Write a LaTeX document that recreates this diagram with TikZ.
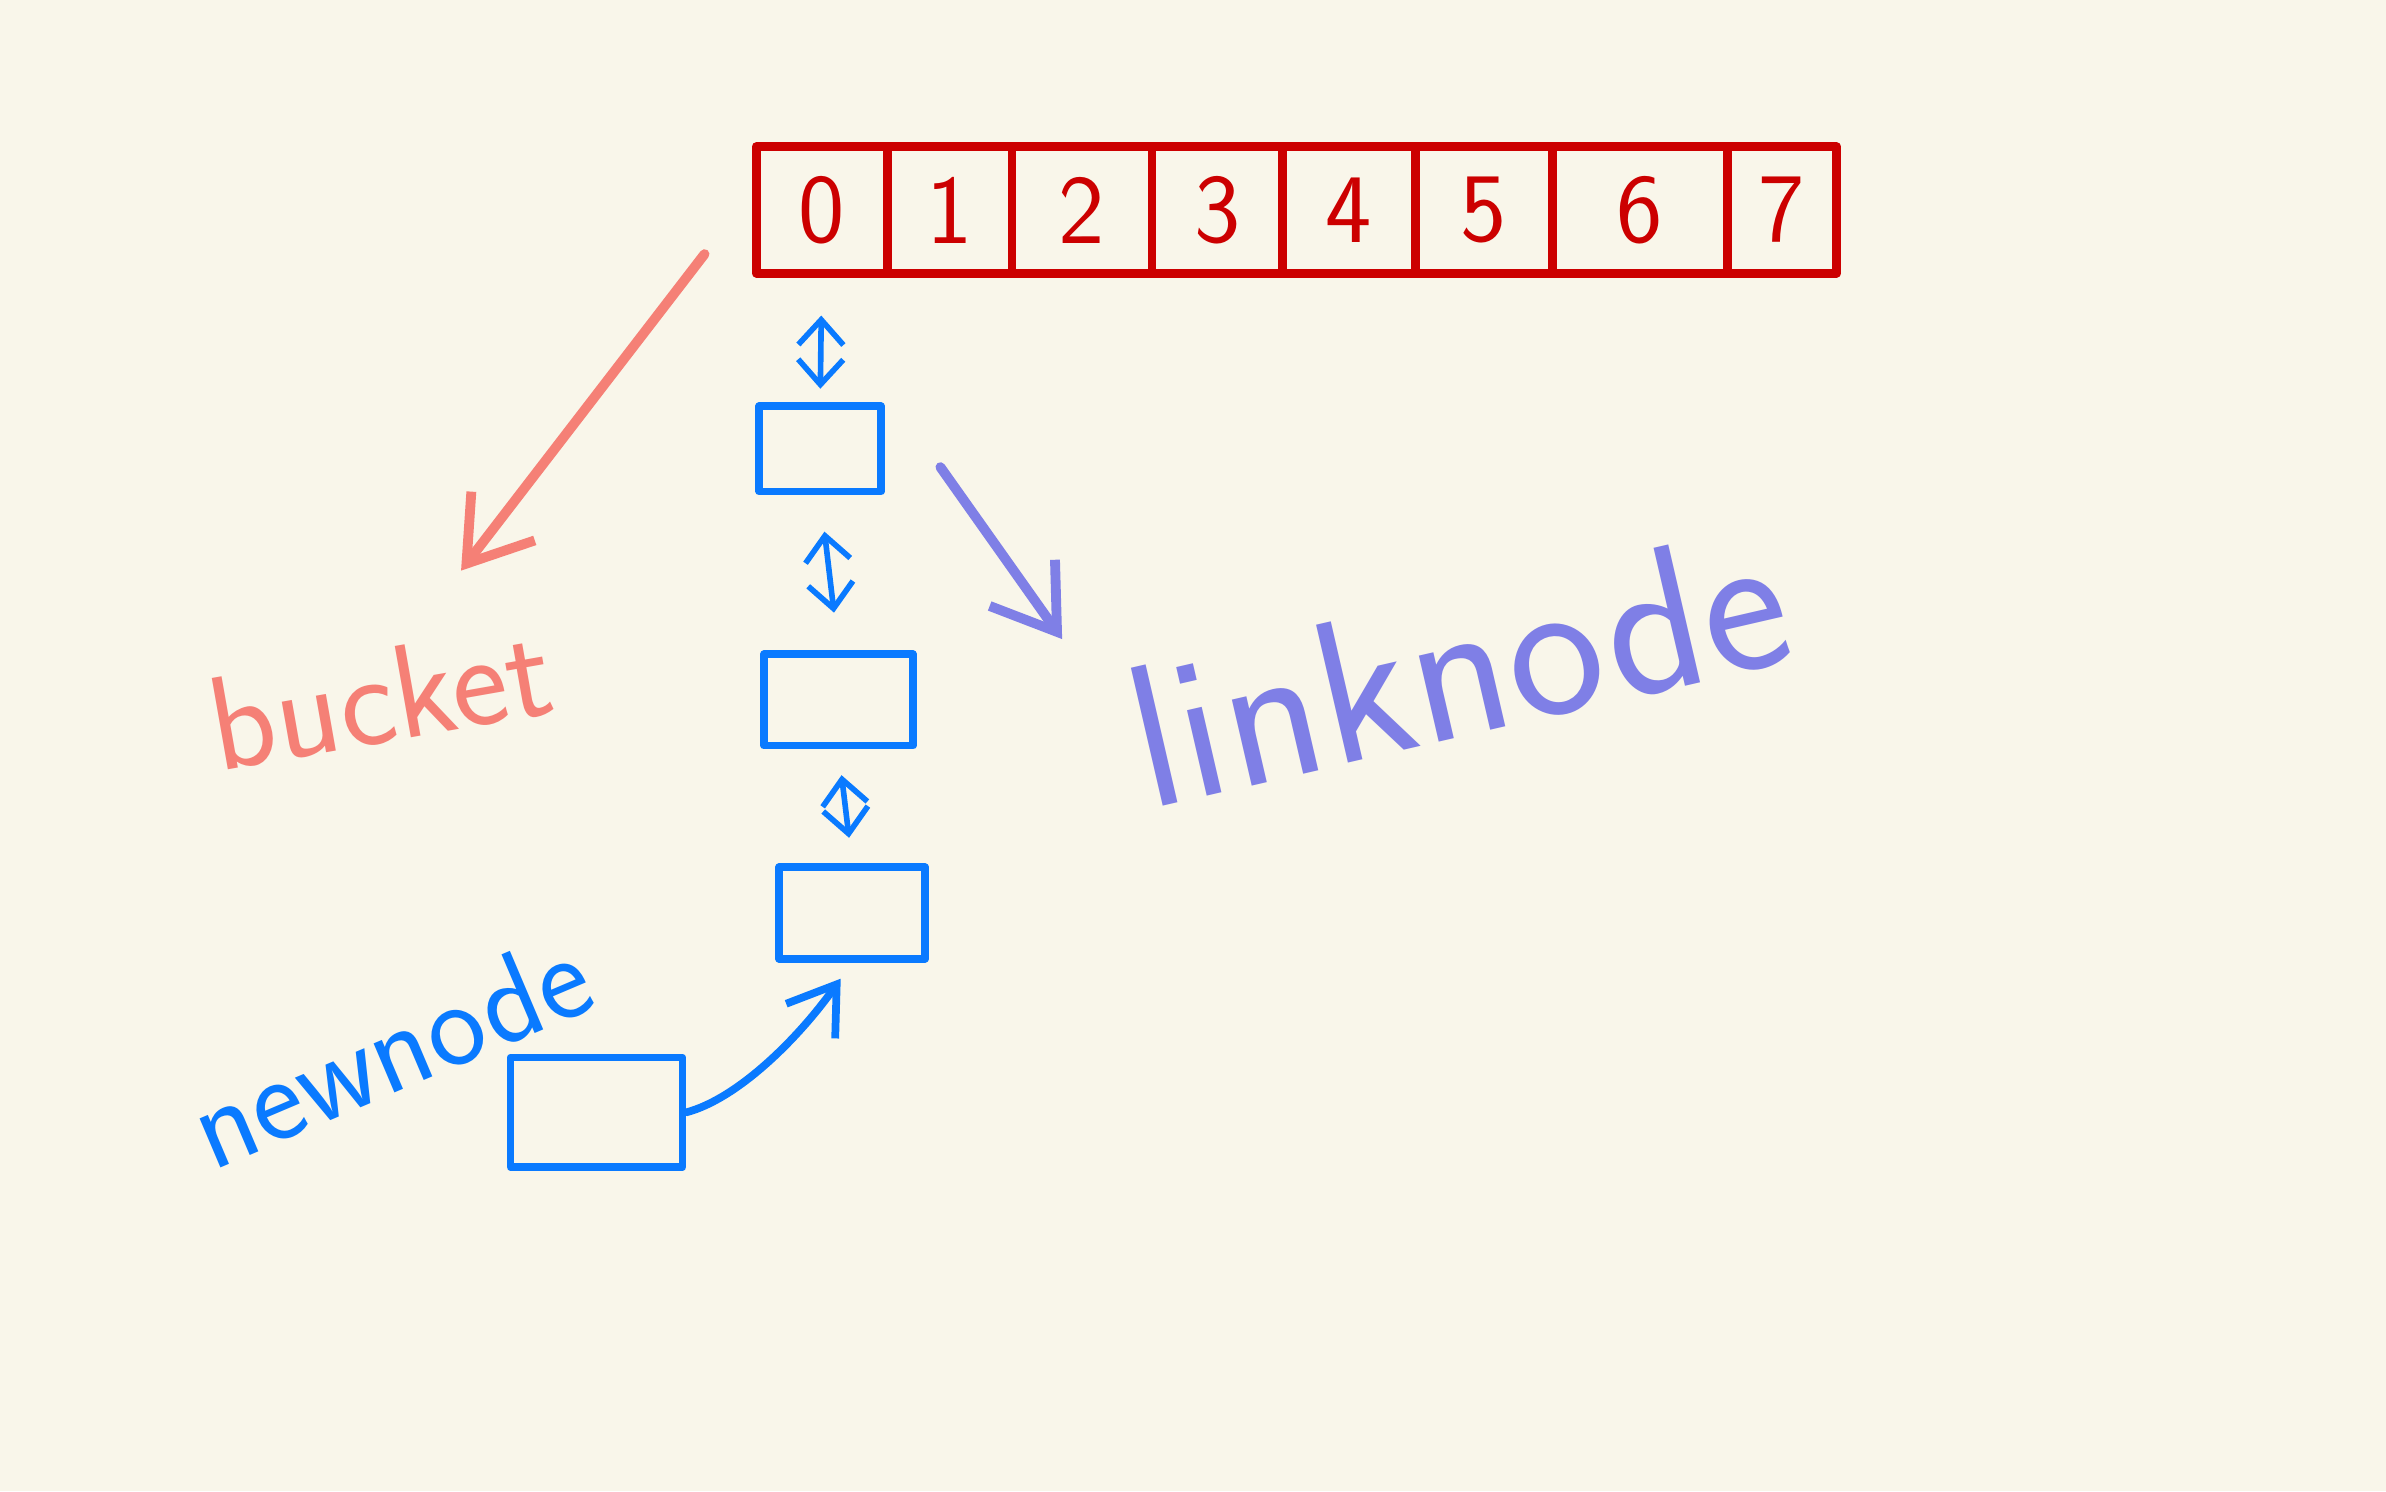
\documentclass[tikz,border=0pt]{standalone}
\usepackage{tikz}
\usetikzlibrary{arrows.meta}

\definecolor{paper}{RGB}{249,246,234}
\definecolor{arrayred}{RGB}{204,0,0}
\definecolor{salmon}{RGB}{245,128,118}
\definecolor{listblue}{RGB}{10,122,255}
\definecolor{linkpurple}{RGB}{127,127,230}

% one pixel of the sketch
\def\pxu{0.015217cm}

\tikzset{
  cell/.style={draw=arrayred, line width=2.5pt, text=arrayred, inner sep=0pt,
    minimum height=83*\pxu, font=\sffamily\fontsize{28}{30}\selectfont},
  lnode/.style={draw=listblue, line width=2.2pt, inner sep=0pt},
  link/.style={listblue, line width=1.6pt,
    {Straight Barb[length=0.25cm,width=0.45cm]}-{Straight Barb[length=0.25cm,width=0.45cm]}},
  pointer/.style={line width=2.8pt, -{Straight Barb[length=0.6cm,width=0.8cm]}},
  hand/.style={inner sep=2pt, font=\sffamily}
}

\begin{document}
\begin{tikzpicture}[x=\pxu, y=-\pxu, line cap=round, line join=round]
	%%%%% paper %%%%%
	\fill[paper] (0,0) rectangle (1568,980);
	\useasboundingbox (0,0) rectangle (1568,980);

	%%%%% buckets %%%%%
	\foreach \i/\lft/\rgt in {0/497/583, 1/583/665, 2/665/757, 3/757/843,
	                           4/843/930, 5/930/1020, 6/1020/1135, 7/1135/1207}
	  \node[cell, minimum width={(\rgt-\lft)*\pxu}] (c\i) at ({(\lft+\rgt)/2},138) {\i};

	%%%%% chain %%%%%
	\node[lnode, minimum width=80*\pxu, minimum height=56*\pxu] (l1) at (539,295) {};
	\node[lnode, minimum width=98*\pxu, minimum height=60*\pxu] (l2) at (551,460) {};
	\node[lnode, minimum width=96*\pxu, minimum height=60*\pxu] (l3) at (560,600) {};

	\draw[link, shorten <=25*\pxu, shorten >=9*\pxu] (c0.south) -- (l1.north);
	\draw[link, shorten <=24*\pxu, shorten >=25*\pxu] (l1.south) -- (l2.north);
	\draw[link, shorten <=17*\pxu, shorten >=17*\pxu] (l2.south) -- (l3.north);

	%%%%% new node %%%%%
	\node[lnode, minimum width=113*\pxu, minimum height=72*\pxu] (nn) at (392,731) {};
	\draw[listblue, line width=2.2pt, -{Straight Barb[length=0.45cm,width=0.6cm]},
	      shorten >=13*\pxu]
	  (nn.east) .. controls (485,722) and (525,682) .. (l3.south);

	%%%%% labels %%%%%
	\node[hand, salmon, rotate=10, font=\sffamily\fontsize{38}{42}\selectfont]
	  (bucket) at (250,458) {bucket};
	\node[hand, linkpurple, rotate=13, font=\sffamily\fontsize{58}{64}\selectfont]
	  (linknode) at (958,438) {linknode};
	\node[hand, listblue, rotate=23, font=\sffamily\fontsize{35}{40}\selectfont]
	  (newnode) at (256,690) {newnode};

	\coordinate (bk) at (463,167);
	\coordinate (bktip) at (303,375);
	\draw[pointer, salmon] (bk) -- (bktip);

	\coordinate (lk) at (618,307);
	\coordinate (lktip) at (698,420);
	\draw[pointer, linkpurple] (lk) -- (lktip);
\end{tikzpicture}
\end{document}
